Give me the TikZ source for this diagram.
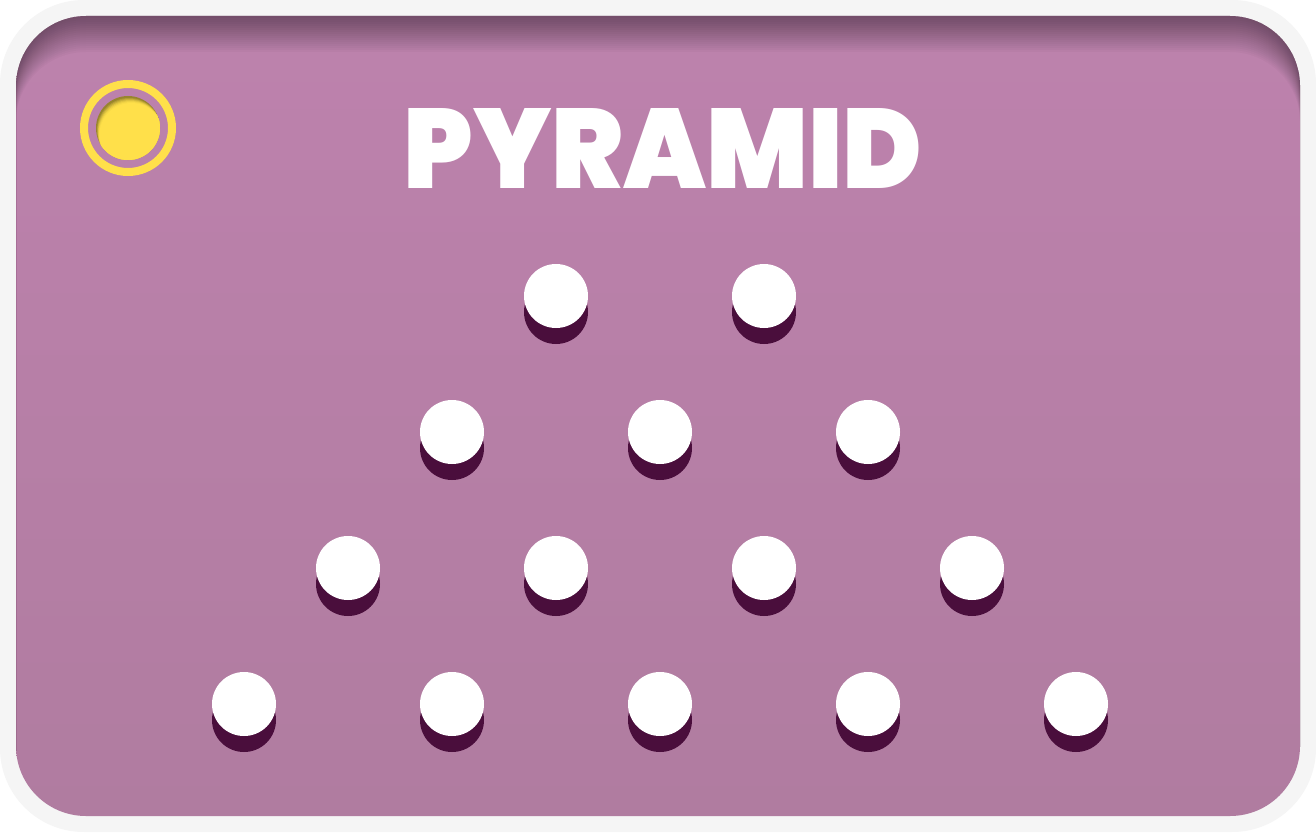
\documentclass[tikz,border=0pt]{standalone}
\usepackage{fontspec}
\newfontfamily\titlefont{Poppins Black}
\usetikzlibrary{shadings}
\definecolor{frame}{HTML}{F5F5F5}
\definecolor{bgtop}{HTML}{BD82AD}
\definecolor{bgbot}{HTML}{B07CA0}
\definecolor{shadowc}{HTML}{4A0E3C}
\definecolor{ylw}{HTML}{FFE04A}
\tikzset{
  dotw/.style={circle,fill=white,minimum size=64pt,inner sep=0pt,draw=none},
  dots/.style={circle,fill=shadowc,minimum size=64pt,inner sep=0pt,draw=none},
}
\begin{document}
\begin{tikzpicture}[x=1pt,y=-1pt]
\useasboundingbox (0,0) rectangle (1316,832);
\fill[white] (0,0) rectangle (1316,832);
\fill[frame,rounded corners=84pt] (0,0) rectangle (1316,832);
\shade[top color=bgtop,bottom color=bgbot,rounded corners=70pt] (16,16) rectangle (1300,816);
% inner top shadow
\begin{scope}
\clip[rounded corners=70pt] (16,16) rectangle (1300,816);
\foreach \d in {2,4,...,36}{
  \fill[black,opacity=0.022,even odd rule] (0,0) rectangle (1316,832)
     [rounded corners=70pt] (16,16+\d) rectangle (1300,816+\d);
}
\end{scope}
% yellow button
\draw[ylw,line width=8pt] (128,128) circle[radius=44];
\fill[ylw!55!black!90!ylw] (128,128) circle[radius=32];
\begin{scope}
\clip (128,128) circle[radius=32];
\foreach \d/\o in {2/0.25,3/0.3,4/0.4,5/0.5,6/0.7,7/1}{
  \fill[ylw,opacity=\o] (128+\d*0.5,128+\d) circle[radius=32];
}
\end{scope}
% title
\node[text=white,inner sep=0pt,anchor=center] (title) at (663,148)
  {\resizebox{519pt}{80pt}{\titlefont PYRAMID}};
% dots
\foreach \n/\x/\y in {a1/556/296,a2/764/296,
  b1/452/432,b2/660/432,b3/868/432,
  c1/348/568,c2/556/568,c3/764/568,c4/972/568,
  d1/244/704,d2/452/704,d3/660/704,d4/868/704,d5/1076/704}{
  \node[dots] (s\n) at (\x,\y+16) {};
  \node[dotw] (\n) at (\x,\y) {};
}
\end{tikzpicture}
\end{document}
